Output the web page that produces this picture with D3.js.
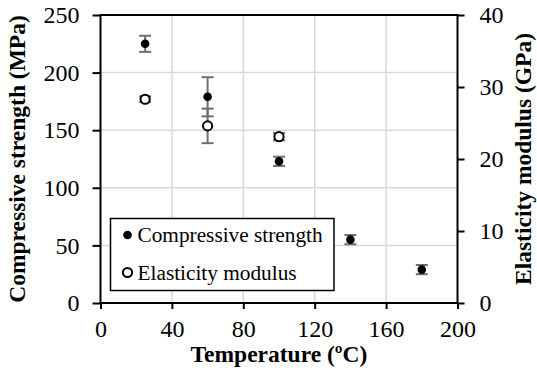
<!DOCTYPE html>
<html>
<head>
<meta charset="utf-8">
<script src="https://cdn.jsdelivr.net/npm/d3@7"></script>
<style>
  html, body { margin: 0; padding: 0; background: #fff; }
  svg { display: block; }
  svg text { font-family: "Liberation Serif", "Times New Roman", serif; fill: #000; }
</style>
</head>
<body>
<svg id="chart" width="537" height="374"></svg>
<script>
// Temperature (ºC) of each test
const temperatures = [25, 60, 100, 140, 180];
// Compressive strength (MPa) and its standard deviation
const strength = [225, 179, 123, 55, 29];
const strengthErr = [7, 17, 4, 4, 4];
// Elasticity modulus (GPa) measured at the first three temperatures
const modulusTemps = [25, 60, 100];
const modulus = [28.3, 24.6, 23.1];
const modulusErr = [0.4, 2.4, 0.5];

const xTicks = [0, 40, 80, 120, 160, 200];
const yLeftTicks = [0, 50, 100, 150, 200, 250];
const yRightTicks = [0, 10, 20, 30, 40];

const serif = "'Liberation Serif', 'Times New Roman', serif";
const svg = d3.select("#chart");
const plotL = 100.5, plotR = 457.5, plotT = 15, plotB = 303;

const x = d3.scaleLinear().domain([0, 200]).range([plotL, plotR]);
const yL = d3.scaleLinear().domain([0, 250]).range([plotB, plotT]);
const yR = d3.scaleLinear().domain([0, 40]).range([plotB, plotT]);

const grid = svg.append("g").attr("stroke", "#d9d9d9").attr("stroke-width", 1.5);
xTicks.slice(1, -1).forEach(v => {
  grid.append("line").attr("x1", x(v)).attr("x2", x(v)).attr("y1", plotT).attr("y2", plotB);
});
yLeftTicks.slice(1, -1).forEach(v => {
  grid.append("line").attr("x1", plotL).attr("x2", plotR).attr("y1", yL(v)).attr("y2", yL(v));
});

const tickSize = 24, legendSize = 21.3, titleSize = 23.5;
function styleAxis(g) {
  g.attr("font-family", null).attr("font-size", null);
  g.selectAll(".domain").remove();
  g.selectAll(".tick line").attr("stroke", "#000").attr("stroke-width", 2);
  g.selectAll(".tick text")
    .style("font-family", serif)
    .style("font-size", tickSize + "px");
}

svg.append("g").attr("transform", `translate(0,${plotB})`)
  .call(d3.axisBottom(x).tickValues(xTicks).tickSize(6).tickPadding(11).tickFormat(d3.format("d")))
  .call(styleAxis);
svg.append("g").attr("transform", `translate(${plotL},0)`)
  .call(d3.axisLeft(yL).tickValues(yLeftTicks).tickSize(8).tickPadding(13).tickFormat(d3.format("d")))
  .call(styleAxis);
svg.append("g").attr("transform", `translate(${plotR},0)`)
  .call(d3.axisRight(yR).tickValues(yRightTicks).tickSize(7).tickPadding(15).tickFormat(d3.format("d")))
  .call(styleAxis);

// plot frame
svg.append("rect").attr("x", plotL).attr("y", plotT)
  .attr("width", plotR - plotL).attr("height", plotB - plotT)
  .attr("fill", "none").attr("stroke", "#000").attr("stroke-width", 2);

// error bars
function errorBar(g, cx, y0, y1) {
  const cap = 6;
  g.append("line").attr("x1", cx).attr("x2", cx).attr("y1", y0).attr("y2", y1);
  g.append("line").attr("x1", cx - cap).attr("x2", cx + cap).attr("y1", y0).attr("y2", y0);
  g.append("line").attr("x1", cx - cap).attr("x2", cx + cap).attr("y1", y1).attr("y2", y1);
}
const eb = svg.append("g").attr("stroke", "#6e6e6e").attr("stroke-width", 2);
temperatures.forEach((t, i) => errorBar(eb, x(t), yL(strength[i] + strengthErr[i]), yL(strength[i] - strengthErr[i])));
modulusTemps.forEach((t, i) => errorBar(eb, x(t), yR(modulus[i] + modulusErr[i]), yR(modulus[i] - modulusErr[i])));

// compressive strength markers
svg.append("g").selectAll("circle").data(temperatures).join("circle")
  .attr("cx", d => x(d)).attr("cy", (d, i) => yL(strength[i])).attr("r", 4.3).attr("fill", "#000");
// elasticity modulus markers
svg.append("g").selectAll("circle").data(modulusTemps).join("circle")
  .attr("cx", d => x(d)).attr("cy", (d, i) => yR(modulus[i])).attr("r", 4.6)
  .attr("fill", "#fff").attr("stroke", "#000").attr("stroke-width", 2);

// legend
const lg = svg.append("g");
lg.append("rect").attr("x", 110.5).attr("y", 218.5).attr("width", 223.5).attr("height", 72)
  .attr("fill", "#fff").attr("stroke", "#000").attr("stroke-width", 1.5);
lg.append("circle").attr("cx", 127.5).attr("cy", 235).attr("r", 4.3).attr("fill", "#000");
lg.append("circle").attr("cx", 127.5).attr("cy", 272.5).attr("r", 4.6)
  .attr("fill", "#fff").attr("stroke", "#000").attr("stroke-width", 2);
lg.append("text").attr("x", 137.5).attr("y", 242).style("font-size", legendSize + "px").text("Compressive strength");
lg.append("text").attr("x", 137.5).attr("y", 279.5).style("font-size", legendSize + "px").text("Elasticity modulus");

// axis titles
svg.append("text").attr("x", (plotL + plotR) / 2).attr("y", 362)
  .attr("text-anchor", "middle").style("font-size", titleSize + "px").attr("font-weight", "bold")
  .text("Temperature (ºC)");
svg.append("text").attr("transform", `translate(25,${(plotT + plotB) / 2}) rotate(-90)`)
  .attr("text-anchor", "middle").style("font-size", titleSize + "px").attr("font-weight", "bold")
  .text("Compressive strength (MPa)");
svg.append("text").attr("transform", `translate(531,${(plotT + plotB) / 2}) rotate(-90)`)
  .attr("text-anchor", "middle").style("font-size", titleSize + "px").attr("font-weight", "bold")
  .text("Elasticity modulus (GPa)");
</script>
</body>
</html>
